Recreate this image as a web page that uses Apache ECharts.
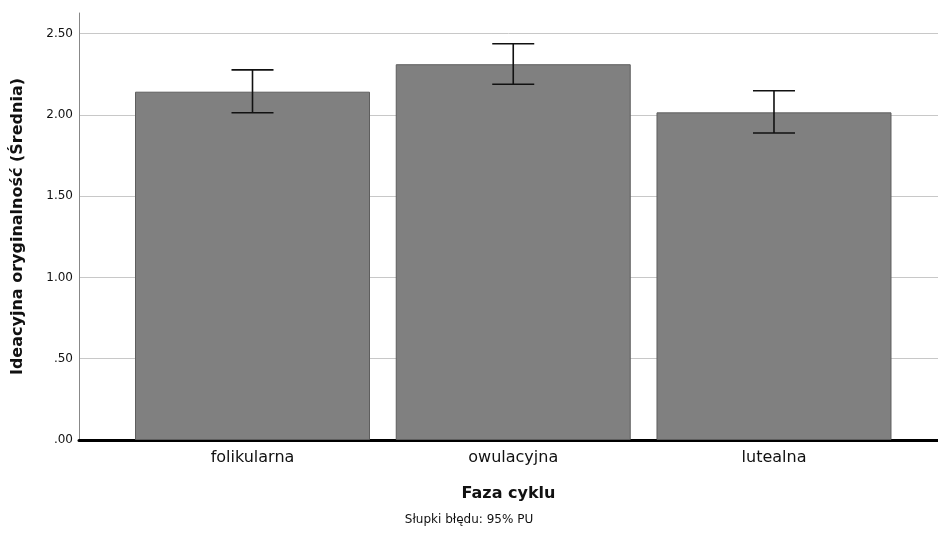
<!DOCTYPE html>
<html lang="pl">
  <head>
    <meta charset="UTF-8" />
    <title>Faza cyklu</title>
    <script src="https://cdn.jsdelivr.net/npm/echarts@6/dist/echarts.min.js"></script>
    <style>
      html, body { margin: 0; padding: 0; background: #fff; }
      #chart { width: 938px; height: 533px; }
    </style>
  </head>
  <body>
    <div id="chart"></div>
    <script>
      // dane
      const categories = ['folikularna', 'owulacyjna', 'lutealna']
      const means = [2.142, 2.311, 2.015]
      const ciLower = [2.013, 2.188, 1.888]
      const ciUpper = [2.276, 2.437, 2.148]
      const yTicks = [0, 0.5, 1, 1.5, 2, 2.5]

      const font = 'DejaVu Sans'
      const chart = echarts.init(document.getElementById('chart'))

      const fmt = v => {
        const s = v.toFixed(2)
        return s.startsWith('0') ? s.slice(1) : s
      }

      const option = {
        animation: false,
        grid: { left: 79, right: 0, top: 13, bottom: 93 },
        xAxis: {
          type: 'value',
          min: 0.3346,
          max: 3.629,
          splitLine: { show: false },
          axisLine: { show: true, onZero: false, lineStyle: { color: '#000', width: 3 } },
          axisTick: { show: false },
          axisLabel: {
            customValues: categories.map((c, i) => i + 1),
            formatter: v => categories[Math.round(v) - 1] || '',
            color: '#111',
            fontFamily: font,
            fontSize: 16,
            margin: 10
          },
          name: 'Faza cyklu',
          nameLocation: 'middle',
          nameGap: 46,
          nameTextStyle: { fontFamily: font, fontSize: 16, fontWeight: 'bold', color: '#111' }
        },
        yAxis: {
          type: 'value',
          min: 0,
          max: 2.626,
          interval: 0.5,
          axisLine: { show: true, lineStyle: { color: '#888', width: 1 } },
          axisTick: { show: false },
          splitLine: { show: true, showMaxLine: false, lineStyle: { color: '#c8c8c8', width: 1 } },
          axisLabel: {
            customValues: yTicks,
            formatter: fmt,
            color: '#111',
            fontFamily: font,
            fontSize: 12,
            margin: 6
          },
          name: 'Ideacyjna oryginalność (Średnia)',
          nameLocation: 'middle',
          nameGap: 53,
          nameTextStyle: { fontFamily: font, fontSize: 16, fontWeight: 'bold', color: '#111' }
        },
        graphic: [{
          type: 'text',
          left: 'center',
          top: 514,
          style: { text: 'Słupki błędu: 95% PU', fontFamily: font, fontSize: 12, fill: '#111' }
        }],
        series: [
          {
            type: 'bar',
            data: means.map((m, i) => [i + 1, m]),
            barWidth: 235,
            itemStyle: { color: '#808080', borderColor: '#5e5e5e', borderWidth: 1 },
            z: 2
          },
          {
            type: 'custom',
            data: categories.map((c, i) => [i + 1, ciLower[i], ciUpper[i]]),
            renderItem: (params, api) => {
              const lo = api.coord([api.value(0), api.value(1)])
              const hi = api.coord([api.value(0), api.value(2)])
              const half = 21
              const st = { stroke: '#111', lineWidth: 1.6 }
              return {
                type: 'group',
                children: [
                  { type: 'line', shape: { x1: hi[0], y1: hi[1], x2: lo[0], y2: lo[1] }, style: st },
                  { type: 'line', shape: { x1: hi[0] - half, y1: hi[1], x2: hi[0] + half, y2: hi[1] }, style: st },
                  { type: 'line', shape: { x1: lo[0] - half, y1: lo[1], x2: lo[0] + half, y2: lo[1] }, style: st }
                ]
              }
            },
            z: 5
          }
        ]
      }
      chart.setOption(option)
    </script>
  </body>
</html>
